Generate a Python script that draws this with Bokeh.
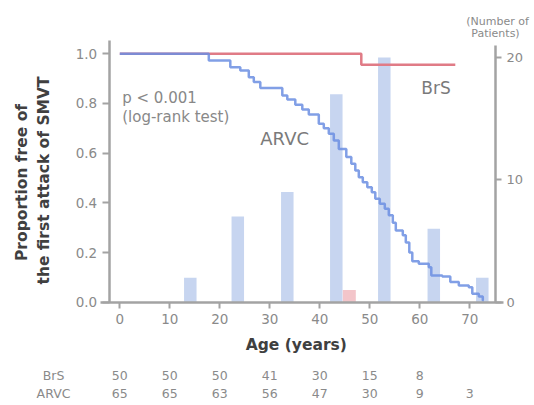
from bokeh.plotting import figure
from bokeh.models import Range1d, LinearAxis, FixedTicker, Label, CustomJSTickFormatter
from bokeh.embed import file_html
from bokeh.resources import INLINE

# ---------------- data ----------------
ages = [0, 10, 20, 30, 40, 50, 60, 70]
brs_at_risk = [50, 50, 50, 41, 30, 15, 8]
arvc_at_risk = [65, 65, 63, 56, 47, 30, 9, 3]

bar_age_arvc = [14.1, 23.6, 33.5, 43.3, 52.9, 62.8, 72.5]
bar_count_arvc = [2, 7, 9, 17, 20, 6, 2]
bar_age_brs = [45.9]
bar_count_brs = [1]

brs_t = [0, 48.3, 67.1]
brs_s = [1.0, 0.956, 0.956]

arvc_t = [0, 17.8, 22.1, 24.1, 25.8, 26.8, 28.1, 32.5, 33.5, 35.1, 36.5, 37.8,
          39.8, 40.8, 41.8, 42.8, 43.8, 45.3, 46.3, 47.1, 47.8, 48.6, 49.5,
          50.4, 51.1, 52.0, 53.0, 53.8, 54.6, 55.2, 56.6, 57.2, 57.9, 58.5,
          59.8, 61.8, 62.3, 64.5, 66.1, 67.8, 69.8, 70.5, 71.8, 72.6, 72.8]
arvc_s = [1.0, 0.973, 0.946, 0.933, 0.906, 0.886, 0.862, 0.832, 0.816, 0.795,
          0.776, 0.756, 0.718, 0.700, 0.678, 0.651, 0.617, 0.585, 0.557, 0.530,
          0.503, 0.483, 0.463, 0.443, 0.416, 0.396, 0.376, 0.350, 0.320, 0.289,
          0.270, 0.240, 0.200, 0.165, 0.155, 0.141, 0.107, 0.103, 0.081, 0.067,
          0.060, 0.034, 0.023, 0.007, 0.007]

left_ticks = [0.0, 0.2, 0.4, 0.6, 0.8, 1.0]
right_ticks = [0, 10, 20]

# ---------------- style ----------------
FONT = "DejaVu Sans"
AXIS_COL = "#a3a3a3"
TICK_COL = "#8a8a8a"
TITLE_COL = "#404040"
BLUE = "#6b8ee2"
RED = "#e07b86"
BAR_BLUE = "#c7d5f0"
BAR_RED = "#f3c5ca"

# the frame covers the whole canvas; axes are placed at fixed locations
p = figure(width=534, height=405, output_backend="svg", toolbar_location=None,
           x_range=Range1d(-23.86, 82.94), y_range=Range1d(-0.4159, 1.2146),
           min_border=0, x_axis_location=None, y_axis_location=None)
p.extra_y_ranges = {"count": Range1d(-8.443, 24.66)}
p.outline_line_color = None
p.grid.grid_line_color = None
p.background_fill_color = "white"
p.border_fill_color = "white"

# bars
p.vbar(x=bar_age_arvc, top=bar_count_arvc, width=2.5, bottom=0,
       y_range_name="count", fill_color=BAR_BLUE, line_color=None)
p.vbar(x=bar_age_brs, top=bar_count_brs, width=2.6, bottom=0,
       y_range_name="count", fill_color=BAR_RED, line_color=None)

# KM curves
p.step(brs_t, brs_s, mode="after", line_color=RED, line_width=2.5)
p.step(arvc_t, arvc_s, mode="after", line_color=BLUE, line_width=2.5, line_alpha=0.85)

# axes
def style_axis(ax, size="13.5px"):
    ax.axis_line_color = AXIS_COL
    ax.axis_line_width = 2.5
    ax.major_tick_line_color = AXIS_COL
    ax.major_tick_line_width = 2
    ax.major_tick_in = 0
    ax.major_tick_out = 7
    ax.minor_tick_line_color = None
    ax.major_label_text_font = FONT
    ax.major_label_text_font_size = size
    ax.major_label_text_color = TICK_COL
    ax.major_label_standoff = 5

xa = LinearAxis(ticker=FixedTicker(ticks=ages), fixed_location=0, bounds=(-3.8, 76.8))
style_axis(xa)
xa.major_tick_out = 6
xa.major_label_standoff = 6
p.add_layout(xa, "below")

ya = LinearAxis(ticker=FixedTicker(ticks=left_ticks), fixed_location=-2.12, bounds=(0, 1.054),
                formatter=CustomJSTickFormatter(code="return tick.toFixed(1);"))
style_axis(ya)
p.add_layout(ya, "left")

yr = LinearAxis(y_range_name="count", ticker=FixedTicker(ticks=right_ticks),
                fixed_location=75.14, bounds=(0, 20.95))
style_axis(yr, "13px")
yr.major_tick_out = 6
p.add_layout(yr, "right")

def lab(x, y, text, size, color, bold=False, align="left", angle=0):
    p.add_layout(Label(x=x, y=y, text=text, text_font=FONT, text_font_size=size,
                       text_color=color, text_align=align, text_baseline="middle",
                       text_font_style="bold" if bold else "normal", angle=angle))

# in-plot texts
lab(0.48, 0.823, "p < 0.001", "15px", "#888888")
lab(0.48, 0.745, "(log-rank test)", "15px", "#888888")
lab(28.1, 0.659, "ARVC", "18px", "#7a7a7a")
lab(60.3, 0.864, "BrS", "17px", "#7a7a7a")

# right axis title
lab(75.54, 1.131, "(Number of", "11px", "#8a8a8a", align="center")
lab(75.14, 1.0805, "Patients)", "11px", "#8a8a8a", align="center")

# left axis title (two lines)
lab(-19.5, 0.482, "Proportion free of", "15.5px", TITLE_COL, bold=True, align="center", angle=1.5708)
lab(-15.2, 0.490, "the first attack of SMVT", "15.5px", TITLE_COL, bold=True, align="center", angle=1.5708)

# x axis title
lab(35.3, -0.174, "Age (years)", "15.5px", TITLE_COL, bold=True, align="center")

# number at risk
lab(-13.26, -0.295, "BrS", "12.5px", TICK_COL, align="center")
lab(-13.26, -0.3675, "ARVC", "12.5px", TICK_COL, align="center")
for a, n in zip(ages, brs_at_risk):
    lab(a, -0.295, str(n), "12.5px", TICK_COL, align="center")
for a, n in zip(ages, arvc_at_risk):
    lab(a, -0.3675, str(n), "12.5px", TICK_COL, align="center")

open("out.html", "w").write(file_html(p, INLINE))
